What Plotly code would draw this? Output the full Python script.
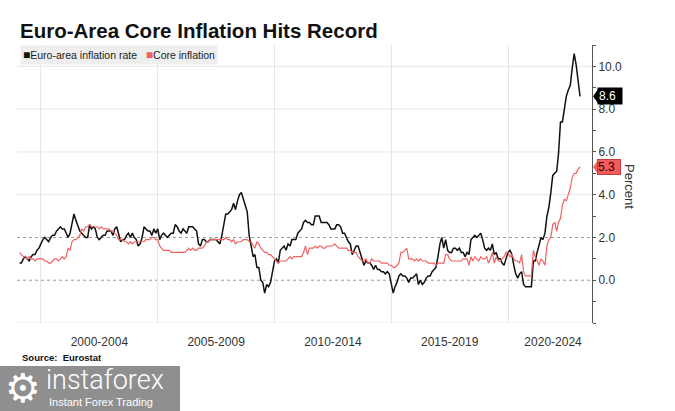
import pandas as pd
import plotly.graph_objects as go

# ---------------- data (monthly, Jan 1999 .. Jan 2023) ----------------
headline = [
    0.8, 0.8, 1.0, 1.1, 1.0, 0.9, 1.1, 1.2, 1.2, 1.4, 1.5, 1.7,   # 1999
    1.9, 2.0, 1.9, 1.8, 2.0, 2.1, 2.1, 2.3, 2.4, 2.5, 2.4, 2.4,   # 2000
    2.2, 2.0, 2.2, 2.6, 3.1, 2.8, 2.5, 2.3, 2.2, 2.1, 2.0, 2.0,   # 2001
    2.6, 2.4, 2.5, 2.4, 2.0, 1.9, 2.0, 2.1, 2.1, 2.3, 2.3, 2.3,   # 2002
    2.1, 2.4, 2.5, 2.1, 1.8, 1.9, 1.9, 2.1, 2.2, 2.0, 2.2, 2.0,   # 2003
    1.9, 1.6, 1.7, 2.0, 2.5, 2.4, 2.3, 2.3, 2.1, 2.4, 2.2, 2.4,   # 2004
    1.9, 2.1, 2.2, 2.1, 2.0, 2.1, 2.2, 2.2, 2.6, 2.5, 2.3, 2.2,   # 2005
    2.4, 2.3, 2.2, 2.5, 2.5, 2.5, 2.4, 2.3, 1.7, 1.6, 1.9, 1.9,   # 2006
    1.8, 1.8, 1.9, 1.9, 1.9, 1.9, 1.8, 1.7, 2.1, 2.6, 3.1, 3.1,   # 2007
    3.2, 3.3, 3.6, 3.3, 3.7, 4.0, 4.1, 3.8, 3.6, 3.2, 2.1, 1.6,   # 2008
    1.1, 1.2, 0.6, 0.6, 0.0, -0.1, -0.6, -0.2, -0.3, -0.1, 0.5, 0.9,  # 2009
    1.0, 0.8, 1.4, 1.5, 1.6, 1.4, 1.7, 1.6, 1.9, 1.9, 1.9, 2.2,   # 2010
    2.3, 2.4, 2.7, 2.8, 2.7, 2.7, 2.6, 2.6, 3.0, 3.0, 3.0, 2.7,   # 2011
    2.7, 2.7, 2.7, 2.6, 2.4, 2.4, 2.4, 2.6, 2.6, 2.5, 2.2, 2.2,   # 2012
    2.0, 1.8, 1.7, 1.2, 1.4, 1.6, 1.6, 1.3, 1.1, 0.7, 0.9, 0.8,   # 2013
    0.8, 0.7, 0.5, 0.7, 0.5, 0.5, 0.4, 0.4, 0.3, 0.4, 0.3, -0.2,  # 2014
    -0.6, -0.3, -0.1, 0.2, 0.3, 0.2, 0.2, 0.1, -0.1, 0.1, 0.1, 0.2,  # 2015
    0.3, -0.2, 0.0, -0.2, -0.1, 0.1, 0.2, 0.2, 0.4, 0.5, 0.6, 1.1,  # 2016
    1.7, 2.0, 1.5, 1.9, 1.4, 1.3, 1.3, 1.5, 1.5, 1.4, 1.5, 1.3,   # 2017
    1.3, 1.1, 1.3, 1.2, 1.9, 2.0, 2.1, 2.0, 2.1, 2.2, 1.9, 1.5,   # 2018
    1.4, 1.5, 1.4, 1.7, 1.2, 1.3, 1.0, 1.0, 0.8, 0.7, 1.0, 1.3,   # 2019
    1.4, 1.2, 0.7, 0.3, 0.1, 0.3, 0.4, -0.2, -0.3, -0.3, -0.3, -0.3,  # 2020
    0.9, 0.9, 1.3, 1.6, 2.0, 1.9, 2.2, 3.0, 3.4, 4.1, 4.9, 5.0,   # 2021
    5.1, 5.9, 7.4, 7.4, 8.1, 8.6, 8.9, 9.1, 9.9, 10.6, 10.1, 9.2,  # 2022
    8.6,                                                          # 2023
]

core = [
    1.3, 1.2, 1.1, 1.1, 1.0, 1.1, 1.0, 1.0, 0.9, 1.0, 1.0, 1.0,   # 1999
    1.0, 0.9, 0.9, 0.8, 0.8, 0.9, 1.0, 1.0, 0.9, 1.0, 1.1, 1.0,   # 2000
    1.1, 1.5, 1.4, 1.8, 1.9, 1.9, 2.0, 2.1, 2.4, 2.3, 2.5, 2.5,   # 2001
    2.6, 2.5, 2.5, 2.5, 2.5, 2.4, 2.5, 2.4, 2.4, 2.4, 2.4, 2.3,   # 2002
    2.3, 2.2, 2.1, 1.9, 1.9, 1.9, 1.8, 1.8, 1.7, 1.8, 1.7, 1.8,   # 2003
    1.8, 1.8, 1.8, 1.8, 1.8, 1.9, 1.9, 1.9, 2.0, 2.0, 1.9, 1.9,   # 2004
    1.6, 1.5, 1.4, 1.4, 1.4, 1.4, 1.3, 1.3, 1.3, 1.3, 1.3, 1.3,   # 2005
    1.3, 1.3, 1.4, 1.5, 1.4, 1.5, 1.4, 1.4, 1.5, 1.5, 1.5, 1.6,   # 2006
    1.8, 1.8, 1.9, 1.9, 1.9, 1.9, 1.9, 1.9, 1.9, 1.9, 2.0, 1.9,   # 2007
    1.9, 1.8, 1.9, 1.7, 1.8, 1.8, 1.8, 1.9, 1.9, 1.9, 1.8, 1.8,   # 2008
    1.6, 1.5, 1.8, 1.7, 1.5, 1.4, 1.3, 1.3, 1.2, 1.2, 1.1, 1.0,   # 2009
    0.9, 0.8, 0.9, 0.9, 0.9, 0.9, 1.0, 1.1, 1.0, 1.1, 1.1, 1.1,   # 2010
    1.1, 1.1, 1.3, 1.6, 1.2, 1.5, 1.5, 1.5, 1.6, 1.5, 1.6, 1.6,   # 2011
    1.5, 1.5, 1.6, 1.6, 1.6, 1.6, 1.7, 1.6, 1.5, 1.5, 1.5, 1.5,   # 2012
    1.5, 1.4, 1.4, 1.3, 1.3, 1.3, 1.1, 1.0, 0.9, 0.9, 1.0, 0.8,   # 2013
    0.8, 1.0, 0.9, 0.9, 0.9, 0.9, 0.8, 0.8, 0.8, 0.8, 0.7, 0.7,   # 2014
    0.6, 0.6, 0.7, 0.8, 1.3, 1.3, 1.4, 1.5, 1.0, 1.0, 1.0, 0.9,   # 2015
    1.0, 0.9, 1.0, 0.9, 0.9, 0.9, 0.8, 0.8, 0.8, 0.8, 0.7, 0.8,   # 2016
    0.8, 0.8, 0.8, 1.2, 1.2, 1.0, 0.9, 0.9, 0.9, 0.9, 0.9, 0.9,   # 2017
    1.0, 1.0, 1.0, 0.7, 1.1, 0.9, 1.1, 1.0, 0.9, 1.1, 1.0, 1.0,   # 2018
    1.1, 0.8, 1.0, 1.3, 0.8, 1.1, 0.9, 0.9, 1.0, 1.1, 1.3, 1.3,   # 2019
    1.1, 1.2, 1.0, 0.9, 0.9, 0.8, 1.2, 0.4, 0.2, 0.2, 0.2, 0.2,   # 2020
    1.4, 1.1, 0.9, 0.7, 1.0, 0.9, 0.7, 1.6, 1.9, 2.0, 2.6, 2.7,   # 2021
    2.3, 2.7, 2.9, 3.5, 3.8, 3.7, 4.0, 4.3, 4.8, 5.0, 5.0, 5.2,   # 2022
    5.3,                                                          # 2023
]

series_names = ["Euro-area inflation rate", "Core inflation"]
period_labels = ["2000-2004", "2005-2009", "2010-2014", "2015-2019", "2020-2024"]
period_label_dates = ["2002-07-02", "2007-07-02", "2012-07-01", "2017-07-02", "2021-12-05"]
period_starts = ["2000-01-01", "2005-01-01", "2010-01-01", "2015-01-01", "2020-01-01"]
y_ticks = list(range(-2, 12))
y_labeled = [0, 2, 4, 6, 8, 10]
title_text = "Euro-Area Core Inflation Hits Record"
source_text = "Source:\u00a0 Eurostat"
y_title = "Percent"

dates = pd.date_range("1999-01-01", periods=len(headline), freq="MS") + pd.offsets.MonthEnd(0)

BLACK = "#111111"
RED = "#f06262"
FONT = "Liberation Sans, Arial, sans-serif"

fig = go.Figure()
fig.add_trace(go.Scatter(x=dates, y=headline, mode="lines", name=series_names[0],
                         line=dict(color=BLACK, width=1.5), showlegend=False))
fig.add_trace(go.Scatter(x=dates, y=core, mode="lines", name=series_names[1],
                         line=dict(color=RED, width=1.2), showlegend=False))

# horizontal gridlines
for v in [-2, 4, 6, 8, 10]:
    fig.add_shape(type="line", xref="paper", yref="y", x0=0, x1=1, y0=v, y1=v,
                  line=dict(color="#e6e6e6", width=1), layer="below")
for v in [0, 2]:
    fig.add_shape(type="line", xref="paper", yref="y", x0=0, x1=1, y0=v, y1=v,
                  line=dict(color="#9a9a9a", width=1, dash="dot"), layer="below")

fig.update_layout(
    width=675, height=411,
    margin=dict(l=17, r=83, t=45, b=88),
    paper_bgcolor="white", plot_bgcolor="white",
    font=dict(family=FONT, color="#333333"),
    title=dict(text="<b>" + title_text + "</b>", x=20 / 675, xanchor="left",
               y=1 - 31 / 411, yanchor="middle", yref="container",
               font=dict(size=20.5, color="#111111", family=FONT)),
    xaxis=dict(
        range=["1998-12-22", "2023-08-06"],
        tickmode="array", tickvals=period_label_dates, ticktext=period_labels,
        ticks="outside", ticklen=8, tickcolor="rgba(0,0,0,0)",
        tickfont=dict(size=12, color="#333333"),
        showgrid=False, zeroline=False, showline=False,
        minor=dict(tickmode="array", tickvals=period_starts, showgrid=True,
                   gridcolor="#e6e6e6", gridwidth=1, ticks=""),
    ),
    yaxis=dict(
        side="right", range=[-2, 11],
        tickmode="array", tickvals=y_ticks,
        ticktext=[(f"{v:.1f}" if v in y_labeled else "") for v in y_ticks],
        ticks="outside", ticklen=3, tickcolor="#555555", tickwidth=1,
        tickfont=dict(size=12, color="#333333"),
        showline=True, linecolor="#555555", linewidth=1,
        showgrid=False, zeroline=False,
    ),
)

ann = []
# legend
ann.append(dict(
    text=(f"<span style='color:{BLACK};font-size:12px'>■</span>{series_names[0]}   "
          f"<span style='color:{RED};font-size:12px'>■</span>{series_names[1]}"),
    xref="paper", yref="paper", x=3 / 575, y=1, xanchor="left", yanchor="top",
    showarrow=False, font=dict(size=10.5, color="#222222", family=FONT),
    bgcolor="#eeeeee", borderpad=2,
))
# value tags
last_h, last_c = headline[-1], core[-1]
ann.append(dict(text=f"{last_h:.1f}", xref="paper", yref="y", x=1, y=last_h,
                xanchor="left", yanchor="middle", xshift=5, showarrow=False,
                font=dict(size=12, color="white", family=FONT),
                bgcolor="#000000", borderpad=1, width=22, align="left"))
ann.append(dict(text=f"{last_c:.1f}", xref="paper", yref="y", x=1, y=last_c,
                xanchor="left", yanchor="middle", xshift=5, showarrow=False,
                font=dict(size=12, color="#2a0000", family=FONT),
                bgcolor="#f25c5c", bordercolor="#c83a3a", borderwidth=1,
                borderpad=0, width=22, align="left"))
# axis title
ann.append(dict(text=y_title, xref="paper", yref="paper", x=(630 - 17) / 575,
                y=(323 - 186) / 278, xanchor="center", yanchor="middle",
                textangle=90, showarrow=False,
                font=dict(size=13, color="#333333", family=FONT)))
# source
ann.append(dict(text="<b>" + source_text + "</b>", xref="paper", yref="paper",
                x=3 / 575, y=(323 - 357) / 278, xanchor="left", yanchor="middle",
                showarrow=False, font=dict(size=9.5, color="#111111", family=FONT)))
# logo
fig.add_shape(type="rect", xref="paper", yref="paper",
              x0=-17 / 575, x1=(180 - 17) / 575,
              y0=(323 - 366) / 278, y1=(323 - 411) / 278,
              fillcolor="#8f8f8f", line=dict(width=0), layer="above")
ann.append(dict(text="⚙", xref="paper", yref="paper", x=(23 - 17) / 575,
                y=(323 - 388) / 278, xanchor="center", yanchor="middle",
                showarrow=False, font=dict(size=40, color="white", family="DejaVu Sans")))
ann.append(dict(text="instaforex", xref="paper", yref="paper", x=(44 - 17) / 575,
                y=(323 - 380) / 278, xanchor="left", yanchor="middle",
                showarrow=False,
                font=dict(size=27, color="white", family="Roboto", weight=300)))
ann.append(dict(text="Instant Forex Trading", xref="paper", yref="paper",
                x=(47 - 17) / 575, y=(323 - 402) / 278, xanchor="left",
                yanchor="middle", showarrow=False,
                font=dict(size=11, color="white", family=FONT)))
fig.update_layout(annotations=ann)

# pointer tips for value tags
for val, col in [(last_h, "#000000"), (last_c, "#f25c5c")]:
    fig.add_shape(type="path", xref="paper", yref="y", xsizemode="pixel",
                  ysizemode="pixel", xanchor=1, yanchor=val,
                  path="M1,0 L6,7 L6,-7 Z", fillcolor=col, line=dict(width=0),
                  layer="above")

fig.write_html("out.html", config={"displayModeBar": False},
               post_script="document.body.style.margin='0';document.body.style.padding='0';")
